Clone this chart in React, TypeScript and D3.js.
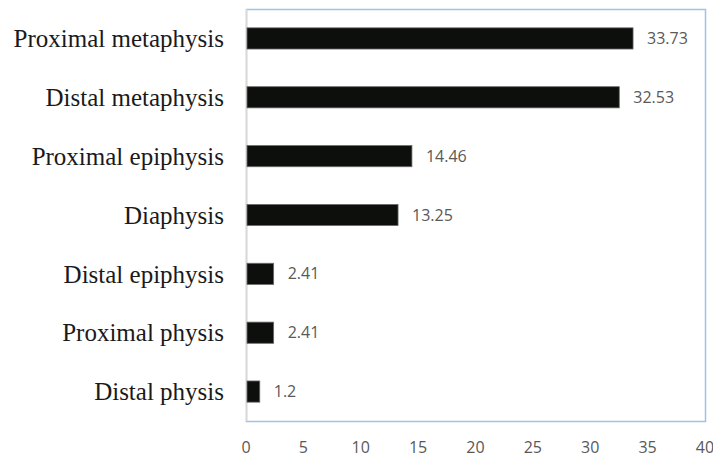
import { useEffect, useRef } from 'react'
import * as d3 from 'd3'

const categories = [
  'Proximal metaphysis',
  'Distal metaphysis',
  'Proximal epiphysis',
  'Diaphysis',
  'Distal epiphysis',
  'Proximal physis',
  'Distal physis',
]
const values = [33.73, 32.53, 14.46, 13.25, 2.41, 2.41, 1.2]
const xTicks = [0, 5, 10, 15, 20, 25, 30, 35, 40]

export default function App() {
  const svgRef = useRef<SVGSVGElement>(null)

  useEffect(() => {
    if (!svgRef.current) return
    const svg = d3.select(svgRef.current)
    svg.selectAll('*').remove()

    const width = 713
    const height = 457
    const margin = { top: 9, right: 8, bottom: 36, left: 246 }
    const innerW = width - margin.left - margin.right
    const innerH = height - margin.top - margin.bottom

    const x = d3.scaleLinear().domain([0, 40]).range([0, innerW])
    const y = d3.scaleBand().domain(categories).range([0, innerH]).paddingInner(0.64).paddingOuter(0.32)

    const g = svg.append('g').attr('transform', `translate(${margin.left},${margin.top})`)

    // plot frame
    g.append('rect')
      .attr('x', 0.5)
      .attr('y', 0.5)
      .attr('width', innerW)
      .attr('height', innerH)
      .attr('fill', 'none')
      .attr('stroke', '#9dc3e6')
      .attr('stroke-width', 1.5)

    // left axis line
    g.append('line')
      .attr('x1', 0.5).attr('x2', 0.5)
      .attr('y1', 0).attr('y2', innerH)
      .attr('stroke', '#d9d9d9')
      .attr('stroke-width', 1.5)

    const data = categories.map((c, i) => ({ c, v: values[i] }))

    g.selectAll('.bar')
      .data(data)
      .enter().append('rect')
      .attr('class', 'bar')
      .attr('x', 1)
      .attr('y', d => y(d.c)!)
      .attr('width', d => x(d.v) - 1)
      .attr('height', y.bandwidth())
      .attr('fill', '#0d0f0c')
      .attr('stroke', '#6b6b6b')
      .attr('stroke-width', 0.8)

    g.selectAll('.val')
      .data(data)
      .enter().append('text')
      .attr('x', d => x(d.v) + 14)
      .attr('y', d => y(d.c)! + y.bandwidth() / 2)
      .attr('dy', '0.35em')
      .attr('fill', '#595959')
      .style('font-family', '"Open Sans", "Liberation Sans", sans-serif')
      .style('font-size', '16px')
      .text(d => String(d.v))

    g.selectAll('.cat')
      .data(data)
      .enter().append('text')
      .attr('x', -22)
      .attr('y', d => y(d.c)! + y.bandwidth() / 2)
      .attr('dy', '0.35em')
      .attr('text-anchor', 'end')
      .attr('fill', '#1a1a1a')
      .style('font-family', '"Liberation Serif", "Times New Roman", serif')
      .style('font-size', '25px')
      .text(d => d.c)

    g.selectAll('.tick')
      .data(xTicks)
      .enter().append('text')
      .attr('x', d => x(d))
      .attr('y', innerH + 26)
      .attr('dy', '0.35em')
      .attr('text-anchor', 'middle')
      .attr('fill', '#595959')
      .style('font-family', '"Open Sans", "Liberation Sans", sans-serif')
      .style('font-size', '16px')
      .text(d => String(d))
  }, [])

  return (
    <svg
      ref={svgRef}
      width={713}
      height={457}
      style={{ position: 'absolute', left: 0, top: 0, background: '#fff' }}
    />
  )
}
